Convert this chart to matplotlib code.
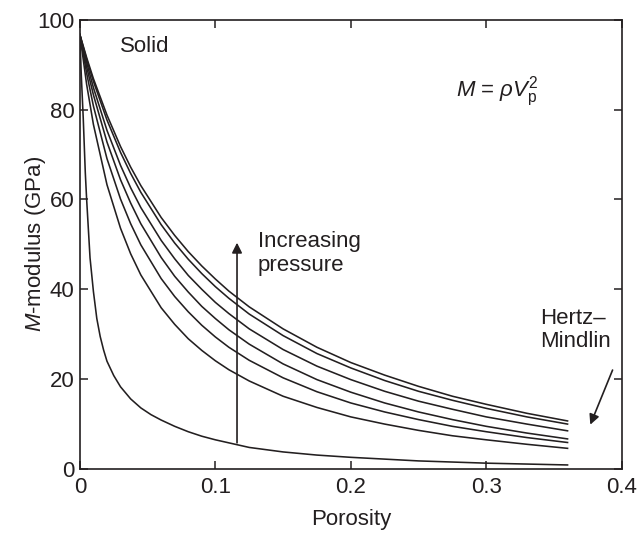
import numpy as np
import matplotlib
matplotlib.use("Agg")
import matplotlib.pyplot as plt

plt.rcParams['font.family'] = ['Liberation Sans', 'DejaVu Sans']
plt.rcParams['mathtext.fontset'] = 'custom'
plt.rcParams['mathtext.rm'] = 'Liberation Sans'
plt.rcParams['mathtext.it'] = 'Liberation Sans:italic'

ink = '#231f20'

# porosity grid
phi = [0, 0.005, 0.01, 0.02, 0.03, 0.0375, 0.045, 0.06, 0.07, 0.08, 0.09, 0.10, 0.11,
       0.125, 0.15, 0.175, 0.2, 0.225, 0.25, 0.275, 0.3, 0.33, 0.36]

# M-modulus (GPa), curves from high to low pressure
m_p6 = [96.7, 91.6, 86.9, 78.8, 71.8, 67.2, 63.1, 56.0, 52.0, 48.4, 45.2, 42.3, 39.6,
        36.1, 31.2, 27.1, 23.7, 20.9, 18.4, 16.2, 14.4, 12.4, 10.7]
m_p5 = [96.7, 91.2, 86.3, 77.7, 70.5, 65.8, 61.6, 54.4, 50.3, 46.7, 43.5, 40.6, 38.0,
        34.5, 29.7, 25.7, 22.5, 19.7, 17.3, 15.3, 13.5, 11.6, 10.0]
m_p4 = [96.7, 90.5, 84.9, 75.4, 67.6, 62.6, 58.2, 50.9, 46.8, 43.1, 40.0, 37.1, 34.6,
        31.2, 26.6, 22.9, 19.9, 17.3, 15.1, 13.3, 11.6, 10.0, 8.5]
m_p3 = [96.7, 89.5, 83.3, 72.8, 64.4, 59.2, 54.6, 47.1, 42.9, 39.4, 36.2, 33.5, 31.0,
        27.8, 23.4, 19.9, 17.1, 14.7, 12.7, 11.0, 9.5, 8.0, 6.7]
m_p2 = [96.7, 88.1, 80.8, 69.1, 60.1, 54.6, 49.9, 42.4, 38.4, 35.0, 32.0, 29.4, 27.1,
        24.2, 20.3, 17.2, 14.7, 12.7, 11.0, 9.5, 8.3, 7.0, 5.9]
m_p1 = [96.7, 85.6, 76.7, 63.3, 53.6, 47.9, 43.2, 35.9, 32.2, 29.0, 26.4, 24.1, 22.1,
        19.6, 16.2, 13.7, 11.6, 10.0, 8.6, 7.4, 6.5, 5.5, 4.6]

# lowest-pressure curve, finer sampling near zero porosity
phi_low = [0, 0.001, 0.0025, 0.004, 0.005, 0.0075, 0.01, 0.0125, 0.015, 0.0175, 0.02,
           0.025, 0.03, 0.0375, 0.045, 0.0525, 0.06, 0.07, 0.08, 0.09, 0.10, 0.125,
           0.15, 0.175, 0.2, 0.25, 0.3, 0.36]
m_low = [96.7, 88, 78, 66, 60, 47, 39.5, 33.5, 29.5, 26.5, 24.0,
         20.8, 18.3, 15.6, 13.6, 12.1, 10.9, 9.5, 8.3, 7.3, 6.5, 4.8,
         3.8, 3.1, 2.6, 1.8, 1.3, 0.9]

fig = plt.figure(figsize=(6.39, 5.36), dpi=100)
ax = fig.add_axes([0.125, 0.125, 0.848, 0.838])

for m in [m_p6, m_p5, m_p4, m_p3, m_p2, m_p1]:
    ax.plot(phi, m, color=ink, lw=1.15)
ax.plot(phi_low, m_low, color=ink, lw=1.15)

ax.set_xlim(0, 0.4)
ax.set_ylim(0, 100)
ax.set_xticks([0, 0.1, 0.2, 0.3, 0.4])
ax.set_xticklabels(['0', '0.1', '0.2', '0.3', '0.4'])
ax.set_yticks([0, 20, 40, 60, 80, 100])
ax.tick_params(direction='in', length=6, width=1.1, top=True, right=True,
               labelsize=16, colors=ink)
ax.tick_params(axis='x', pad=6)
ax.tick_params(axis='y', pad=4)
for s in ax.spines.values():
    s.set_linewidth(1.2)
    s.set_color(ink)

ax.set_xlabel('Porosity', fontsize=16, color=ink)
ax.set_ylabel(r'$M$-modulus (GPa)', fontsize=16, color=ink)
ax.xaxis.set_label_coords(0.5, -0.088)
ax.yaxis.set_label_coords(-0.058, 0.5)

ax.text(0.0295, 94, 'Solid', fontsize=16, color=ink, va='center')
ax.text(0.2775, 84, r'$M$ = $\rho V_{\mathrm{p}}^{2}$', fontsize=16, color=ink, va='center')
ax.text(0.1314, 48, 'Increasing\npressure', fontsize=16, color=ink, va='center',
        linespacing=1.15)
ax.text(0.3395, 31, 'Hertz\u2013\nMindlin', fontsize=16, color=ink, va='center',
        linespacing=1.15)

ax.annotate('', xy=(0.116, 51), xytext=(0.116, 5.2),
            arrowprops=dict(arrowstyle='-|>', color=ink, lw=1.2, mutation_scale=15))
ax.annotate('', xy=(0.376, 9.3), xytext=(0.394, 22.6),
            arrowprops=dict(arrowstyle='-|>', color=ink, lw=1.2, mutation_scale=15))

plt.savefig('out.png', dpi=100)
